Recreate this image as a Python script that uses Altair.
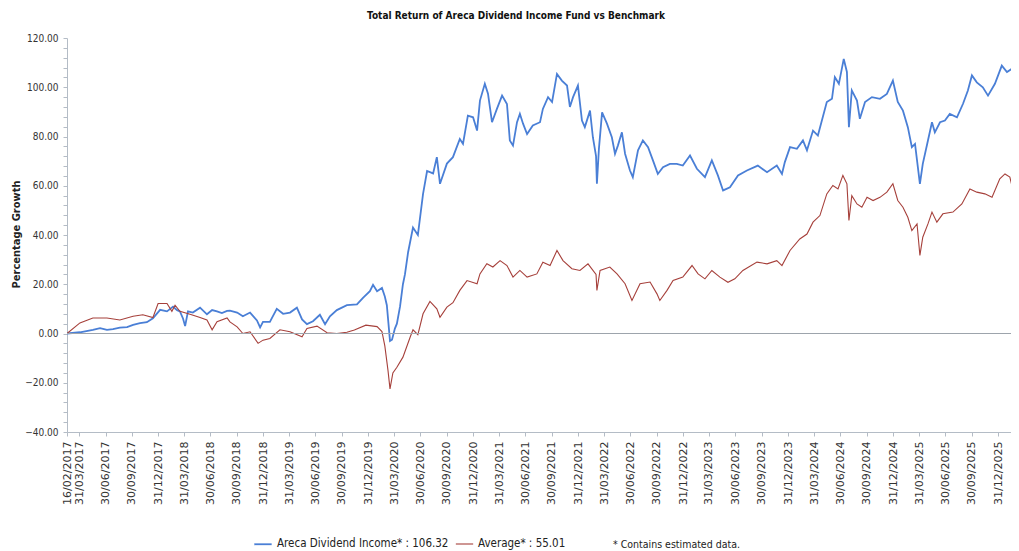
import altair as alt
import pandas as pd

START = "2017-02-16"
END_DAY = 3285  # last visible day of the x domain (days after START)

fund_name = "Areca Dividend Income* : 106.32"
bench_name = "Average* : 55.01"
note_text = "*  Contains estimated data."
chart_title = "Total Return of Areca Dividend Income Fund vs Benchmark"

# days after 16/02/2017, percentage growth
fund_days = [0, 45, 90, 115, 139, 160, 184, 209, 230, 254, 278, 299, 324, 348, 369, 383, 393, 404, 411, 421,
             438, 463, 487, 505, 522, 539, 557, 567, 592, 612, 637, 661, 672, 682, 706, 730, 752, 776, 800, 818,
             835, 856, 880, 898, 915, 939, 974, 1009, 1030, 1054, 1065, 1079, 1096, 1106, 1113, 1124, 1131, 1141, 1148, 1159,
             1169, 1176, 1187, 1204, 1221, 1239, 1253, 1274, 1287, 1298, 1322, 1343, 1367, 1378, 1395, 1413, 1427, 1437, 1454, 1465,
             1479, 1496, 1514, 1531, 1541, 1552, 1566, 1576, 1587, 1601, 1621, 1646, 1656, 1674, 1688, 1705, 1722, 1740, 1750, 1761,
             1778, 1792, 1802, 1820, 1830, 1841, 1844, 1851, 1862, 1879, 1896, 1907, 1917, 1931, 1942, 1959, 1969, 1987, 2004, 2022,
             2039, 2056, 2074, 2098, 2122, 2143, 2168, 2192, 2220, 2244, 2265, 2283, 2307, 2335, 2366, 2404, 2436, 2470, 2488, 2498,
             2516, 2540, 2561, 2575, 2596, 2613, 2644, 2662, 2672, 2686, 2703, 2714, 2721, 2731, 2749, 2759, 2777, 2801, 2829, 2853,
             2874, 2891, 2909, 2926, 2940, 2951, 2968, 2978, 2996, 3010, 3020, 3038, 3055, 3072, 3097, 3118, 3135, 3149, 3166, 3187,
             3205, 3229, 3253, 3271, 3288, 3299, 3309]
fund_vals = [0.0, 0.5, 1.5, 2.2, 1.5, 1.8, 2.4, 2.6, 3.5, 4.2, 4.6, 6.2, 9.6, 9.0, 10.9, 9.5, 9.0, 6.0, 3.0, 9.0,
             8.5, 10.5, 7.8, 9.5, 9.0, 8.3, 9.2, 9.3, 8.5, 7.0, 8.5, 5.3, 2.5, 4.7, 4.7, 10.0, 8.0, 8.5, 10.5, 5.7,
             3.8, 5.0, 7.6, 3.8, 7.0, 9.5, 11.5, 11.8, 14.5, 17.2, 19.8, 17.2, 18.5, 15.0, 11.5, -3.0, -2.5, 2.0, 4.0, 11.0,
             20.0, 24.0, 33.0, 43.0, 40.0, 56.7, 66.0, 65.0, 71.6, 60.8, 69.0, 71.6, 79.0, 77.0, 88.5, 87.8, 82.4, 94.6, 101.4, 97.4,
             85.8, 91.2, 96.6, 93.2, 78.4, 76.3, 85.8, 89.2, 85.2, 81.0, 84.5, 85.8, 91.2, 96.0, 94.0, 105.4, 102.7, 100.7, 92.0, 96.0,
             100.7, 86.5, 83.8, 90.5, 79.7, 72.0, 60.8, 75.0, 89.8, 85.2, 79.7, 73.0, 76.3, 81.7, 73.0, 66.2, 63.5, 74.4, 78.4, 75.7,
             70.3, 64.8, 67.5, 68.9, 68.9, 68.2, 72.3, 66.9, 63.5, 70.3, 64.2, 58.1, 59.4, 64.2, 66.2, 68.2, 65.5, 68.2, 64.8, 69.6,
             75.7, 75.0, 78.4, 74.4, 82.4, 80.4, 94.0, 95.3, 104.1, 101.4, 111.5, 106.2, 83.8, 98.7, 94.6, 87.2, 94.0, 96.0, 95.3, 97.3,
             102.7, 94.0, 90.5, 83.8, 75.7, 77.0, 60.8, 68.9, 78.4, 85.8, 81.7, 85.8, 86.5, 89.2, 87.8, 93.3, 98.7, 104.8, 102.0, 100.0,
             96.6, 101.4, 108.8, 106.2, 107.5, 103.4, 107.5]

bench_days = [0, 45, 90, 139, 184, 230, 264, 299, 317, 348, 365, 376, 393, 428, 463, 487, 505, 522, 557, 567,
              592, 612, 637, 665, 682, 706, 741, 776, 818, 835, 870, 905, 939, 974, 1000, 1040, 1079, 1096, 1106, 1117,
              1124, 1134, 1148, 1169, 1194, 1204, 1221, 1239, 1263, 1287, 1298, 1322, 1343, 1367, 1392, 1427, 1437, 1461, 1482, 1507,
              1531, 1552, 1576, 1601, 1635, 1656, 1681, 1705, 1726, 1757, 1785, 1813, 1841, 1844, 1855, 1889, 1914, 1942, 1966, 1994,
              2029, 2053, 2063, 2088, 2109, 2143, 2175, 2196, 2220, 2244, 2272, 2300, 2324, 2352, 2401, 2436, 2470, 2488, 2516, 2550,
              2575, 2596, 2620, 2644, 2665, 2683, 2700, 2714, 2721, 2731, 2749, 2766, 2784, 2805, 2829, 2853, 2874, 2891, 2909, 2926,
              2940, 2958, 2968, 2978, 2996, 3010, 3027, 3048, 3083, 3114, 3142, 3166, 3194, 3219, 3246, 3264, 3281, 3299, 3309]
bench_vals = [0.0, 4.3, 6.3, 6.3, 5.5, 7.0, 7.6, 6.5, 12.2, 12.2, 9.0, 11.5, 9.0, 7.8, 6.5, 5.5, 1.5, 4.8, 6.3, 4.7,
              2.7, 0.0, 0.7, -4.0, -2.7, -2.0, 1.5, 0.7, -1.3, 2.0, 3.0, 0.3, 0.0, 0.5, 1.4, 3.4, 2.8, 0.8, -5.0, -15.0,
              -22.5, -16.0, -13.7, -9.6, -1.5, 1.5, -0.5, 8.0, 13.0, 10.0, 6.6, 10.7, 12.5, 17.5, 21.5, 20.2, 24.2, 28.3, 27.0, 29.6,
              27.6, 22.9, 25.6, 22.9, 24.2, 28.9, 27.6, 33.7, 29.6, 26.3, 25.6, 28.3, 24.0, 17.5, 25.6, 27.0, 24.2, 20.2, 13.4, 20.2,
              20.9, 16.1, 13.4, 17.5, 21.5, 22.9, 27.6, 24.2, 22.2, 25.6, 22.9, 20.8, 22.2, 25.6, 29.0, 28.3, 29.6, 27.6, 33.7, 38.4,
              40.4, 45.2, 47.9, 56.7, 60.1, 58.7, 64.2, 60.8, 45.9, 56.0, 52.6, 51.3, 55.3, 54.0, 55.3, 57.4, 60.8, 54.0, 51.3, 47.2,
              41.8, 44.5, 31.7, 39.1, 44.5, 49.3, 45.2, 48.6, 49.3, 52.6, 58.7, 57.4, 56.7, 55.3, 62.8, 64.8, 63.5, 54.7, 59.4]

tick_dates = ["2017-02-16",
              "2017-03-31", "2017-06-30", "2017-09-30", "2017-12-31",
              "2018-03-31", "2018-06-30", "2018-09-30", "2018-12-31",
              "2019-03-31", "2019-06-30", "2019-09-30", "2019-12-31",
              "2020-03-31", "2020-06-30", "2020-09-30", "2020-12-31",
              "2021-03-31", "2021-06-30", "2021-09-30", "2021-12-31",
              "2022-03-31", "2022-06-30", "2022-09-30", "2022-12-31",
              "2023-03-31", "2023-06-30", "2023-09-30", "2023-12-31",
              "2024-03-31", "2024-06-30", "2024-09-30", "2024-12-31",
              "2025-03-31", "2025-06-30", "2025-09-30", "2025-12-31"]

y_min, y_max = -40, 120
y_ticks = list(range(y_min, y_max + 1, 4))

start = pd.Timestamp(START)
end = start + pd.Timedelta(days=END_DAY)


def dt(ts):
    ts = pd.Timestamp(ts)
    return alt.DateTime(year=ts.year, month=ts.month, date=ts.day)


rows = []
for name, days, vals in [(fund_name, fund_days, fund_vals), (bench_name, bench_days, bench_vals)]:
    for d, v in zip(days, vals):
        rows.append({"date": (start + pd.Timedelta(days=d)).strftime("%Y-%m-%dT00:00:00"),
                     "value": v, "series": name})
df = pd.DataFrame(rows)

LABEL_FONT = "DejaVu Sans Condensed"
AXIS_GRAY = "#b4bcc6"

x_enc = alt.X("date:T",
              scale=alt.Scale(domain=[dt(start), dt(end)]),
              axis=alt.Axis(values=[dt(t) for t in tick_dates], format="%d/%m/%Y",
                            labelAngle=270, labelAlign="right", labelBaseline="middle",
                            labelFont="DejaVu Sans", labelFontSize=11, labelColor="#333333",
                            labelOverlap=False, labelFlush=False, labelPadding=5,
                            tickSize=4, tickColor=AXIS_GRAY, domainColor=AXIS_GRAY,
                            grid=False, title=None))
y_scale = alt.Scale(domain=[y_min, y_max], nice=False, zero=False)
y_axis = alt.Axis(values=y_ticks,
                  labelExpr="datum.value % 20 == 0 ? format(datum.value, '.2f') : ''",
                  labelFont=LABEL_FONT, labelFontSize=10, labelColor="#333333",
                  labelOverlap=False, labelFlush=False, labelBound=False, labelPadding=5,
                  tickSize=4, tickColor=AXIS_GRAY, domainColor=AXIS_GRAY, grid=False,
                  title="Percentage Growth", titleFont=LABEL_FONT, titleFontSize=11,
                  titleFontWeight="bold", titleColor="#222222", titleX=-46, titleY=196)

lines = alt.Chart(df).mark_line(clip=True, interpolate="linear").encode(
    x=x_enc,
    y=alt.Y("value:Q", scale=y_scale, axis=y_axis),
    color=alt.Color("series:N",
                    scale=alt.Scale(domain=[fund_name, bench_name], range=["#4a7fd6", "#a6403b"]),
                    legend=alt.Legend(orient="none", legendX=186, legendY=496, direction="horizontal",
                                      title=None, symbolType="stroke", symbolSize=300,
                                      symbolStrokeWidth=2, labelFont=LABEL_FONT, labelFontSize=11.5,
                                      labelColor="#222222", labelLimit=400, columnPadding=4,
                                      labelOffset=4, padding=0)),
    strokeWidth=alt.StrokeWidth("series:N",
                                scale=alt.Scale(domain=[fund_name, bench_name], range=[1.8, 1.1]),
                                legend=None),
    order=alt.Order("date:T"),
)

zero_rule = alt.Chart(pd.DataFrame({"v": [0]})).mark_rule(color="#9da4ac", strokeWidth=1).encode(
    y=alt.Y("v:Q", scale=y_scale, axis=y_axis))

note = alt.Chart(pd.DataFrame({"t": [note_text]})).mark_text(
    align="left", baseline="middle", font=LABEL_FONT, fontSize=10.5, color="#222222"
).encode(x=alt.value(546), y=alt.value(507), text="t:N")

chart = alt.layer(lines, zero_rule, note).properties(
    width=944, height=394,
    title=alt.TitleParams(chart_title, font=LABEL_FONT, fontSize=10, fontWeight="bold",
                          color="#111111", anchor="middle", dx=-23, offset=12),
    autosize=alt.AutoSizeParams(type="none"),
    padding={"left": 59, "top": 30, "right": 0, "bottom": 119},
).configure_view(stroke=None)

chart.save("out.html", embed_options={"renderer": "svg", "actions": False})
